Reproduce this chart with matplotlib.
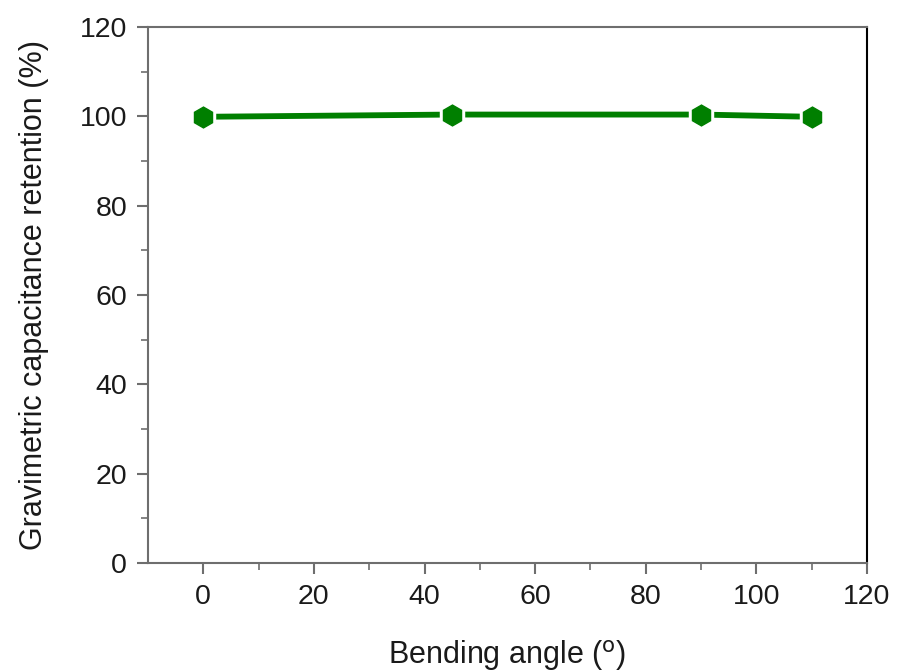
import matplotlib
matplotlib.use('Agg')
import matplotlib.pyplot as plt
from matplotlib import rc

# bending angle (deg) vs gravimetric capacitance retention (%)
angles = [0, 45, 90, 110]
retention = [99.9, 100.4, 100.4, 99.9]

x_ticks = [0, 20, 40, 60, 80, 100, 120]
y_ticks = [0, 20, 40, 60, 80, 100, 120]

rc('font', family='Liberation Sans', size=20.5)

green = '#007f00'
gray = '#6e6e6e'

fig = plt.figure(figsize=(9, 6.72), dpi=100)
ax = fig.add_axes([0.1644, 0.1622, 0.7989, 0.7976])

ax.plot(angles, retention, color=green, lw=4.2, zorder=2)
# white halo gives the gap between line and markers
ax.plot(angles, retention, ls='none', marker='h', ms=20, mfc='white', mec='white', zorder=3)
ax.plot(angles, retention, ls='none', marker='h', ms=15, mfc=green, mec=green, zorder=4)

ax.set_xlim(-10, 120)
ax.set_ylim(0, 120)
ax.set_xticks(x_ticks)
ax.set_yticks(y_ticks)
ax.set_xticks([10, 30, 50, 70, 90, 110], minor=True)
ax.set_yticks([10, 30, 50, 70, 90, 110], minor=True)

for s in ['left', 'bottom', 'top']:
    ax.spines[s].set_color(gray)
    ax.spines[s].set_linewidth(1.5)
ax.spines['right'].set_color('black')
ax.spines['right'].set_linewidth(1.5)

ax.tick_params(which='major', direction='out', length=8, width=1.5, color=gray, labelcolor='#1a1a1a', pad=7)
ax.tick_params(which='minor', direction='out', length=5, width=1.2, color=gray)

ax.set_xlabel('Bending angle ($^{\\mathrm{o}}$)', fontsize=22, labelpad=20, color='#1a1a1a')
ax.set_ylabel('Gravimetric capacitance retention (%)', fontsize=22, labelpad=22, color='#1a1a1a')

fig.savefig('out.png', dpi=100)
